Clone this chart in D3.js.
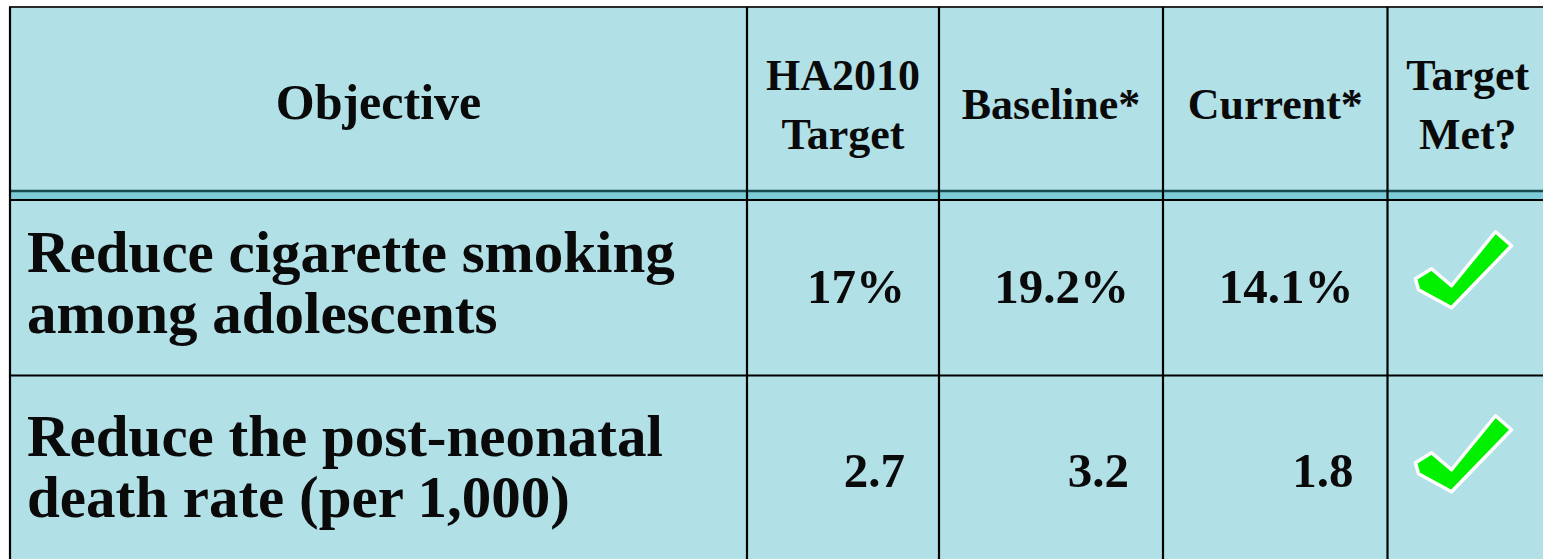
<!DOCTYPE html>
<html>
<head>
<meta charset="utf-8">
<script src="https://cdn.jsdelivr.net/npm/d3@7"></script>
<style>
  body { margin: 0; background: #ffffff; overflow: hidden; }
  text { font-family: "Liberation Serif", "DejaVu Serif", serif; font-weight: bold; fill: #0a0a0a; }
</style>
</head>
<body>
<div id="table"></div>
<script>
// table content
const headers = [["Objective"], ["HA2010", "Target"], ["Baseline*"], ["Current*"], ["Target", "Met?"]];
const objectives = [
  ["Reduce cigarette smoking", "among adolescents"],
  ["Reduce the post-neonatal", "death rate (per 1,000)"]
];
const targets = ["17%", "2.7"];
const baselines = ["19.2%", "3.2"];
const currents = ["14.1%", "1.8"];
const targetMet = [true, true];

const width = 1543, height = 559;

// column / row edges of the slide table
const colEdges = [10, 747, 939, 1163, 1387.5, 1548];
const rowEdges = [7, 191, 375.5, 568];
const headerBand = 9; // double rule under the header

const svg = d3.select("#table").append("svg")
  .attr("width", width)
  .attr("height", height);

const xCol = d3.scaleOrdinal().domain(d3.range(5)).range(colEdges.slice(0, 5));
const wCol = i => colEdges[i + 1] - colEdges[i];

// cell background
svg.append("rect")
  .attr("x", colEdges[0]).attr("y", rowEdges[0])
  .attr("width", colEdges[5] - colEdges[0])
  .attr("height", rowEdges[3] - rowEdges[0])
  .attr("fill", "#b1e0e7");

// header double rule
svg.append("rect")
  .attr("x", colEdges[0]).attr("y", rowEdges[1])
  .attr("width", colEdges[5] - colEdges[0]).attr("height", headerBand)
  .attr("fill", "#7ccbd7");
svg.append("line")
  .attr("x1", colEdges[0]).attr("x2", colEdges[5])
  .attr("y1", rowEdges[1]).attr("y2", rowEdges[1])
  .attr("stroke", "#184a52").attr("stroke-width", 2.5);
svg.append("line")
  .attr("x1", colEdges[0]).attr("x2", colEdges[5])
  .attr("y1", rowEdges[1] + headerBand).attr("y2", rowEdges[1] + headerBand)
  .attr("stroke", "#000").attr("stroke-width", 2);

// row rules
svg.selectAll(".hrule")
  .data([rowEdges[0], rowEdges[2]])
  .enter().append("line")
  .attr("class", "hrule")
  .attr("x1", colEdges[0] - 1).attr("x2", colEdges[5])
  .attr("y1", d => d).attr("y2", d => d)
  .attr("stroke", (d, i) => i === 0 ? "#2a2a2a" : "#000")
  .attr("stroke-width", 2);

// column rules
svg.selectAll(".vrule")
  .data(colEdges.slice(0, 5))
  .enter().append("line")
  .attr("class", "vrule")
  .attr("x1", d => d).attr("x2", d => d)
  .attr("y1", rowEdges[0]).attr("y2", rowEdges[3])
  .attr("stroke", "#000").attr("stroke-width", 2.2);

// header text
const hdr = svg.selectAll(".hdr")
  .data(headers)
  .enter().append("text")
  .attr("class", "hdr")
  .attr("text-anchor", "middle")
  .attr("font-size", (d, i) => i === 0 ? 50 : 44)
  .attr("x", (d, i) => xCol(i) + wCol(i) / 2);
hdr.each(function (lines) {
  const mid = (rowEdges[0] + rowEdges[1]) / 2;
  const lh = 59;
  const y0 = mid + 20 - (lines.length - 1) * lh / 2;
  d3.select(this).selectAll("tspan")
    .data(lines)
    .enter().append("tspan")
    .attr("x", d3.select(this).attr("x"))
    .attr("y", (d, j) => y0 + j * lh)
    .text(d => d);
});

const rowMidY = [0, 1].map(r => {
  const top = r === 0 ? rowEdges[1] + headerBand : rowEdges[2];
  return (top + rowEdges[r + 2]) / 2;
});

// objective text
svg.selectAll(".obj")
  .data(objectives)
  .enter().append("text")
  .attr("class", "obj")
  .attr("font-size", 59)
  .each(function (lines, r) {
    d3.select(this).selectAll("tspan")
      .data(lines)
      .enter().append("tspan")
      .attr("x", colEdges[0] + 17)
      .attr("y", (d, j) => rowMidY[r] - 16 + j * 61)
      .text(d => d);
  });

// numeric columns
const valueCols = [targets, baselines, currents];
valueCols.forEach((vals, c) => {
  svg.selectAll(".val" + c)
    .data(vals)
    .enter().append("text")
    .attr("class", "val" + c)
    .attr("text-anchor", "end")
    .attr("font-size", 49)
    .attr("x", colEdges[c + 2] - 34)
    .attr("y", (d, r) => rowMidY[r] + 15)
    .text(d => d);
});

// check marks (shape in local units, centred in cell)
const checkShape = [[-50, 11], [-34, 1], [-14, 18], [30, -36], [46, -22], [-14, 40], [-47, 22]];
const checkLine = d3.line().curve(d3.curveLinearClosed);
svg.selectAll(".check")
  .data(targetMet.map((m, r) => ({ met: m, r: r })).filter(d => d.met))
  .enter().append("path")
  .attr("class", "check")
  .attr("d", checkLine(checkShape))
  .attr("transform", d => "translate(" + (xCol(4) + 78) + "," + (rowMidY[d.r] - 20) + ")")
  .attr("fill", "#00f000")
  .attr("stroke", "#ffffff")
  .attr("stroke-width", 3.5)
  .attr("stroke-linejoin", "round");
</script>
</body>
</html>
